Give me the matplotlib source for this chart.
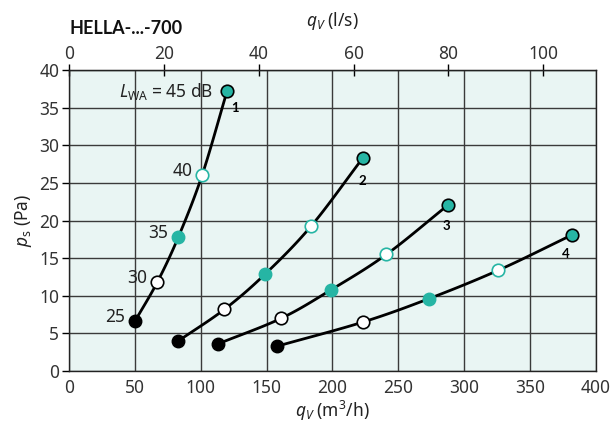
import numpy as np
import matplotlib.pyplot as plt

plt.rcParams['font.family'] = ['Noto Sans', 'DejaVu Sans']
plt.rcParams['mathtext.fontset'] = 'custom'
plt.rcParams['mathtext.rm'] = 'Noto Sans'
plt.rcParams['mathtext.it'] = 'Noto Sans:italic'

# flow (m3/h) and static pressure (Pa) per curve, points at LWA 25, 30, 35, 40, 45 dB
q1 = [50, 67, 83, 101, 120]
p1 = [6.6, 11.8, 17.8, 26.0, 37.2]
q2 = [83, 118, 149, 184, 223]
p2 = [4.0, 8.2, 12.9, 19.3, 28.3]
q3 = [113, 161, 199, 241, 288]
p3 = [3.6, 7.0, 10.8, 15.5, 22.1]
q4 = [158, 223, 273, 326, 382]
p4 = [3.3, 6.5, 9.6, 13.4, 18.1]
curves = [(q1, p1), (q2, p2), (q3, p3), (q4, p4)]
curve_names = ['1', '2', '3', '4']
name_offsets = [(6, -12), (0, -16.5), (-1.5, -15), (-5, -13.5)]
level_labels = ['25', '30', '35', '40']

teal = '#26b5a4'
bg = '#e9f5f3'
bold_fam = ['Lato', 'Roboto', 'DejaVu Sans']


def smooth(x, y, n=30):
    # catmull-rom through the given points, only for drawing the line
    pts = np.column_stack([x, y]).astype(float)
    pts = np.vstack([2 * pts[0] - pts[1], pts, 2 * pts[-1] - pts[-2]])
    out = []
    for i in range(1, len(pts) - 2):
        p0, pa, pb, p3_ = pts[i - 1], pts[i], pts[i + 1], pts[i + 2]
        t = np.linspace(0, 1, n)[:, None]
        seg = 0.5 * ((2 * pa) + (-p0 + pb) * t + (2 * p0 - 5 * pa + 4 * pb - p3_) * t ** 2
                     + (-p0 + 3 * pa - 3 * pb + p3_) * t ** 3)
        out.append(seg)
    out = np.vstack(out)
    return out[:, 0], out[:, 1]


fig = plt.figure(figsize=(6.11, 4.25), dpi=100)
ax = fig.add_axes([0.1129, 0.127, 0.8625, 0.7083])
ax.set_facecolor(bg)
ax.set_xlim(0, 400)
ax.set_ylim(0, 40)
ax.set_xticks(np.arange(0, 401, 50))
ax.set_yticks(np.arange(0, 41, 5))
ax.grid(True, color='#3a3a3a', lw=1.0)
ax.set_axisbelow(True)
ax.tick_params(axis='x', length=0, pad=6, labelsize=12.5, labelcolor='#333333')
ax.tick_params(axis='y', length=5, width=1, pad=2, labelsize=12.5, labelcolor='#333333')
for s in ax.spines.values():
    s.set_color('#222222')
    s.set_linewidth(1.0)

for (q, p), name, off in zip(curves, curve_names, name_offsets):
    xs, ys = smooth(q, p)
    ax.plot(xs, ys, color='black', lw=2, zorder=3)
    ax.plot(q[0], p[0], 'o', ms=9, mfc='black', mec='black', zorder=4)
    ax.plot(q[1], p[1], 'o', ms=9, mfc='white', mec='black', mew=1.2, zorder=4)
    ax.plot(q[2], p[2], 'o', ms=9, mfc=teal, mec=teal, zorder=4)
    ax.plot(q[3], p[3], 'o', ms=9, mfc='white', mec=teal, mew=1.2, zorder=4)
    ax.plot(q[4], p[4], 'o', ms=9, mfc=teal, mec='black', mew=1.2, zorder=4)
    ax.annotate(name, (q[4], p[4]), xytext=off, textcoords='offset points',
                fontsize=9.5, fontweight='bold', family=bold_fam,
                ha='center', va='center')

for qq, pp, lab in zip(q1[:4], p1[:4], level_labels):
    ax.annotate(lab, (qq, pp), xytext=(-7, 3), textcoords='offset points',
                fontsize=12.5, ha='right', va='center', color='#222222')
ax.annotate(r'$L_{\mathrm{WA}}$ = 45 dB', (q1[4], p1[4]), xytext=(-10, 0),
            textcoords='offset points', fontsize=12.5, ha='right', va='center',
            color='#222222')

ax.set_xlabel(r'$q_V$ (m$^3$/h)', fontsize=12.5, color='#222222', labelpad=1)
ax.set_ylabel(r'$p_\mathrm{s}$ (Pa)', fontsize=12.5, color='#222222', labelpad=4)

top = ax.secondary_xaxis('top', functions=(lambda v: v / 3.6, lambda v: v * 3.6))
top.set_xticks(np.arange(0, 101, 20))
top.tick_params(direction='inout', length=8, width=1, pad=1, labelsize=12.5,
                labelcolor='#333333')
top.set_xlabel(r'$q_V$ (l/s)', fontsize=12.5, color='#222222', labelpad=14)

fig.text(0.113, 0.932, 'HELLA-...-700', fontsize=13, fontweight='bold',
         family=bold_fam, color='#111111', ha='left', va='center')

fig.savefig('out.png', dpi=100)
